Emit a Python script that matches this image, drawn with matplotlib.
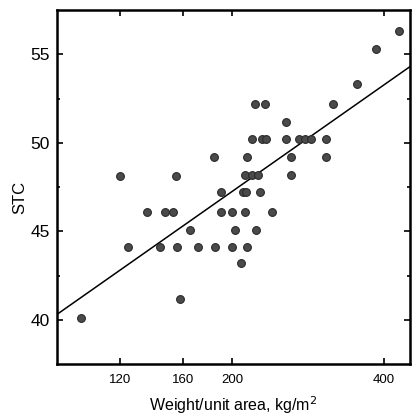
import numpy as np
import matplotlib
matplotlib.use("Agg")
import matplotlib.pyplot as plt
from matplotlib.ticker import FixedLocator, NullLocator, FixedFormatter

# weight per unit area (kg/m^2) and sound transmission class
weight = [100.3, 120, 124.2, 136.0, 144.3, 147.6, 153.1, 155.2, 155.9, 158.1,
          165.4, 171.5, 184.5, 185.4, 190.5, 190.5, 200.3, 200.3, 203.0, 208.6,
          210.5, 212.5, 212.5, 213.4, 214.4, 214.4, 219.4, 219.4, 222.4, 223.4,
          225.4, 227.5, 229.6, 232.8, 233.8, 240.3, 256.1, 256.1, 262.0, 262.0,
          271.7, 279.2, 286.9, 307.3, 307.3, 317.2, 353.9, 385.8, 428.4]
stc = [40.1, 48.1, 44.1, 46.1, 44.1, 46.1, 46.1, 48.1, 44.1, 41.2,
       45.1, 44.1, 49.2, 44.1, 47.2, 46.1, 46.1, 44.1, 45.1, 43.2,
       47.2, 48.2, 46.1, 47.2, 44.1, 49.2, 50.2, 48.2, 52.2, 45.1,
       48.2, 47.2, 50.2, 52.2, 50.2, 46.1, 51.2, 50.2, 49.2, 48.2,
       50.2, 50.2, 50.2, 50.2, 49.2, 52.2, 53.3, 55.3, 56.3]

# regression line end points
fit_x = [90, 450]
fit_y = [40.3, 54.3]

xticks = [120, 160, 200, 400]
yticks = [40, 45, 50, 55]
yminor = [42.5, 47.5, 52.5]

plt.rcParams['font.family'] = ['Liberation Sans', 'DejaVu Sans']

fig = plt.figure(figsize=(4.12, 4.17), dpi=100)
ax = fig.add_axes([0.138, 0.127, 0.857, 0.849])

ax.plot(fit_x, fit_y, color='black', lw=1.1, zorder=2)
ax.plot(weight, stc, 'o', ms=5.6, mfc='#4a4a4a', mec='#2a2a2a', mew=0.8, zorder=3)

ax.set_xscale('log')
ax.set_xlim(90, 450)
ax.set_ylim(37.5, 57.5)

ax.xaxis.set_major_locator(FixedLocator(xticks))
ax.xaxis.set_major_formatter(FixedFormatter([str(t) for t in xticks]))
ax.xaxis.set_minor_locator(NullLocator())
ax.yaxis.set_major_locator(FixedLocator(yticks))
ax.yaxis.set_minor_locator(FixedLocator(yminor))

ax.tick_params(which='both', direction='in', top=True, right=True, width=1.2)
ax.tick_params(which='major', length=4)
ax.tick_params(which='minor', length=2.5)
ax.tick_params(axis='x', labelsize=9.5, pad=7)
ax.tick_params(axis='y', labelsize=12.5, pad=5)

for s in ax.spines.values():
    s.set_linewidth(1.8)

ax.set_xlabel('Weight/unit area, kg/m$^2$', fontsize=11.5, labelpad=6)
ax.set_ylabel('STC', fontsize=12)
ax.yaxis.set_label_coords(-0.085, 0.47)

fig.savefig('out.png', dpi=100)
